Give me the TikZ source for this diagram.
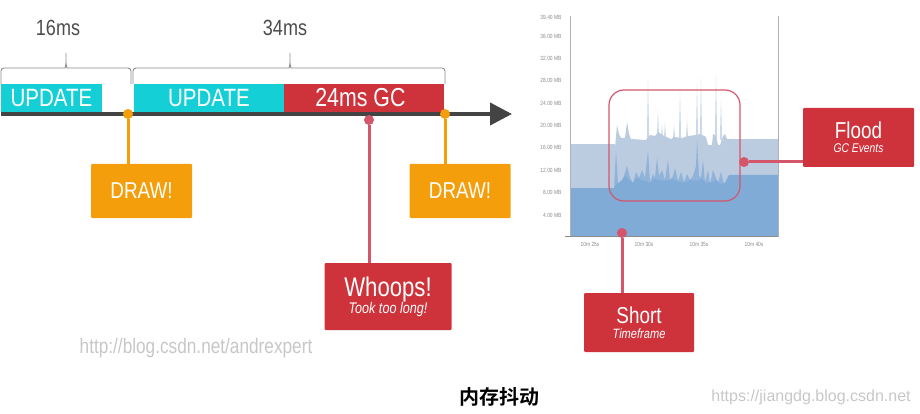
\documentclass[tikz,border=0pt]{standalone}
\usepackage{fontspec}
\setmainfont[FakeStretch=0.82]{Liberation Sans}
\newfontfamily\urlfont{Liberation Sans}
\newfontfamily\cjk{Noto Sans CJK SC Bold}
\usepackage{tikz}
\usetikzlibrary{positioning, arrows.meta}

\definecolor{barcyan}{HTML}{14D0D6}
\definecolor{barred}{HTML}{CE333B}
\definecolor{drawamber}{HTML}{F49E0B}
\definecolor{pinred}{HTML}{D4566B}
\definecolor{axisdark}{HTML}{444444}
\definecolor{memdark}{HTML}{80ABD7}
\definecolor{memlight}{HTML}{BBCCE0}

\begin{document}
\begin{tikzpicture}[x=1pt, y=-1pt,
                bar/.style={minimum height=28pt, inner sep=0pt, text=white, font=\fontsize{25}{25}\selectfont},
                callout/.style={rounded corners=1pt, fill=barred, text=white, inner sep=0pt, align=center},
                drawbox/.style={rounded corners=1pt, fill=drawamber, text=white, inner sep=0pt, minimum width=101pt, minimum height=54pt, font=\fontsize{23}{23}\selectfont},
                brace/.style={draw=black!45, line width=0.9pt, rounded corners=3pt},
                pin/.style={circle, inner sep=0pt, minimum size=10pt, fill=#1},
                ylab/.style={anchor=east, text=black!45, font=\fontsize{6}{6}\selectfont},
                xlab/.style={text=black!45, font=\fontsize{6}{6}\selectfont}
                ]
    \useasboundingbox (0,0) rectangle (920,414);

    % Chart
    \fill[memlight] (570,144) -- (615,144) -- (615,236) -- (570,236) -- cycle;
    \fill[memlight] (729,139) -- (778,139) -- (778,236) -- (729,236) -- cycle;
    \fill[memlight] (614,190) -- (615,148) -- (617,125) -- (619,134) -- (621,138) -- (625,138) -- (627,122) -- (629,134) -- (631,139)
        -- (646,140) -- (650,135) -- (655,136) -- (658,132) -- (661,134) -- (664,136)
        -- (671,139) -- (674,137) -- (682,138) -- (688,136) -- (696,135) -- (700,134)
        -- (706,137) -- (708,145) -- (712,145) -- (713,134) -- (716,136) -- (718,145) -- (720,145) -- (723,136) -- (725,134) -- (727,139) -- (729,139) -- (729,190) -- cycle;
    \foreach \xx/\ytop in {648/78, 658/110, 662/124, 665/122, 674/125, 680/92, 687/120, 697/84, 701/78, 716/74, 721/100}
        \fill[memlight, opacity=0.75] (\xx-1.2,140) -- (\xx,\ytop) -- (\xx+1.2,140) -- cycle;
    \fill[memdark!75!memlight] (614,190) -- (616,150) -- (618,184) -- (621,183) -- (624,176) -- (627,166) -- (630,178) -- (633,183) -- (636,172) -- (639,178) -- (642,170)
        -- (645,178) -- (648,150) -- (650,182) -- (653,174) -- (655,178) -- (657,158) -- (659,176) -- (662,170) -- (665,180) -- (668,160) -- (670,180) -- (673,176)
        -- (675,168) -- (678,181) -- (681,172) -- (684,182) -- (687,174) -- (690,180) -- (693,176) -- (696,166) -- (697,140) -- (699,176) -- (701,178) -- (703,160)
        -- (705,182) -- (708,170) -- (710,184) -- (713,170) -- (716,178) -- (718,183) -- (721,172) -- (724,184) -- (727,178) -- (729,175) -- (729,190) -- cycle;
    \fill[memdark] (570,188) -- (614,188) -- (617,184) -- (621,181) -- (625,176) -- (629,180) -- (633,183) -- (637,178) -- (641,180) -- (645,181) -- (650,183) -- (654,179) -- (660,180)
        -- (666,181) -- (672,179) -- (678,182) -- (684,183) -- (690,180) -- (696,181) -- (702,179) -- (706,183) -- (712,182) -- (716,180) -- (720,184) -- (726,183)
        -- (729,175) -- (778,175) -- (778,236) -- (570,236) -- cycle;
    \draw[black!30, line width=0.6pt] (570,16) -- (570,236) -- (778,236) -- (778,16);
    \draw[black!45, line width=0.5pt] (565,236) -- (778,236);
    \foreach \yy/\ylabel in {17/39.40, 36/36.00, 58/32.00, 80/28.00, 103/24.00, 125/20.00, 147/16.00, 170/12.00, 192/8.00, 215/4.00}
        \node[ylab] at (565,\yy) {\ylabel{} MB};
    \foreach \xx/\xlabel in {590/25, 644/30, 699/35, 754/40}
        \node[xlab] at (\xx,244) {10m \xlabel s};

    % Axis
    \coordinate (axis_start) at (1,114);
    \coordinate (axis_end) at (512,114);
    \draw[axisdark, line width=4pt, -{Triangle[length=22pt,width=22pt]}, shorten >=0pt] (axis_start) -- (axis_end);

    % Nodes
    \node[bar, fill=barcyan, minimum width=101pt] (update_a) at (51.5,98) {UPDATE};
    \node[bar, fill=barcyan, minimum width=150pt] (update_b) at (209,98) {UPDATE};
    \node[bar, fill=barred, minimum width=160pt, font=\fontsize{26}{26}\selectfont] (gc) [right=0pt of update_b] {\kern-8pt 24ms GC};
    \node[text=black!70, font=\fontsize{22}{22}\selectfont] (label_16) at (58,28) {16ms};
    \node[text=black!70, font=\fontsize{22}{22}\selectfont] (label_34) at (285,28) {34ms};

    \node[pin=drawamber] (dot_a) at (128,114) {};
    \node[pin=drawamber] (dot_b) at (445,114) {};
    \node[pin=pinred] (dot_gc) at (369,120) {};
    \node[pin=pinred] (dot_short) at (622,233) {};
    \node[pin=pinred] (dot_flood) at (744,162) {};

    \node[drawbox] (draw_a) at (141.5,191) {\raisebox{-3.5pt}{DRAW!}};
    \node[drawbox] (draw_b) at (460,191) {\raisebox{-3.5pt}{DRAW!}};
    \node[callout, minimum width=127pt, minimum height=67pt] (whoops) at (388,296.5) {{\fontsize{27}{29}\selectfont Whoops!}\\[-1pt]{\fontsize{15.4}{16}\selectfont\itshape Took too long!}};
    \node[callout, minimum width=110pt, minimum height=59pt] (short) at (639,322.5) {{\fontsize{23}{25}\selectfont Short}\\[3pt]{\fontsize{13.5}{15}\selectfont\itshape Timeframe}};
    \node[callout, minimum width=111pt, minimum height=59pt] (flood) at (858.5,137.5) {{\fontsize{23}{25}\selectfont Flood}\\[2pt]{\fontsize{12.6}{15}\selectfont\itshape GC Events}};

    \node[text=black!22, font=\fontsize{21}{21}\selectfont] (url_a) at (196,348) {http://blog.csdn.net/andrexpert};
    \node[text=black!22, font=\urlfont\fontsize{16}{16}\selectfont] (url_b) at (811,397) {https://jiangdg.blog.csdn.net};
    \node[font=\cjk\fontsize{20}{20}\selectfont] (caption) at (499,397) {内存抖动};

    % Paths
    \draw[drawamber, line width=3pt] (dot_a) -- (dot_a |- draw_a.north);
    \draw[drawamber, line width=3pt] (dot_b) -- (dot_b |- draw_b.north);
    \draw[pinred, line width=3pt] (dot_gc) -- (dot_gc |- whoops.north);
    \draw[pinred, line width=3pt] (dot_short) -- (dot_short |- short.north);
    \draw[pinred, line width=3pt] (dot_flood) -- (dot_flood -| flood.west);
    \draw[pinred, line width=1.2pt, rounded corners=15pt] (609,90) rectangle (740,201);
    \draw[brace] (1,84) -- (1,68) -- (62,68) .. controls (65,68) and (66,66) .. (66,60) -- (66,51) -- (66,60) .. controls (66,66) and (67,68) .. (70,68) -- (131,68) -- (131,84);
    \draw[brace] (133,84) -- (133,68) -- (286,68) .. controls (289,68) and (290,66) .. (290,60) -- (290,51) -- (290,60) .. controls (290,66) and (291,68) .. (294,68) -- (445,68) -- (445,84);
\end{tikzpicture}
\end{document}
